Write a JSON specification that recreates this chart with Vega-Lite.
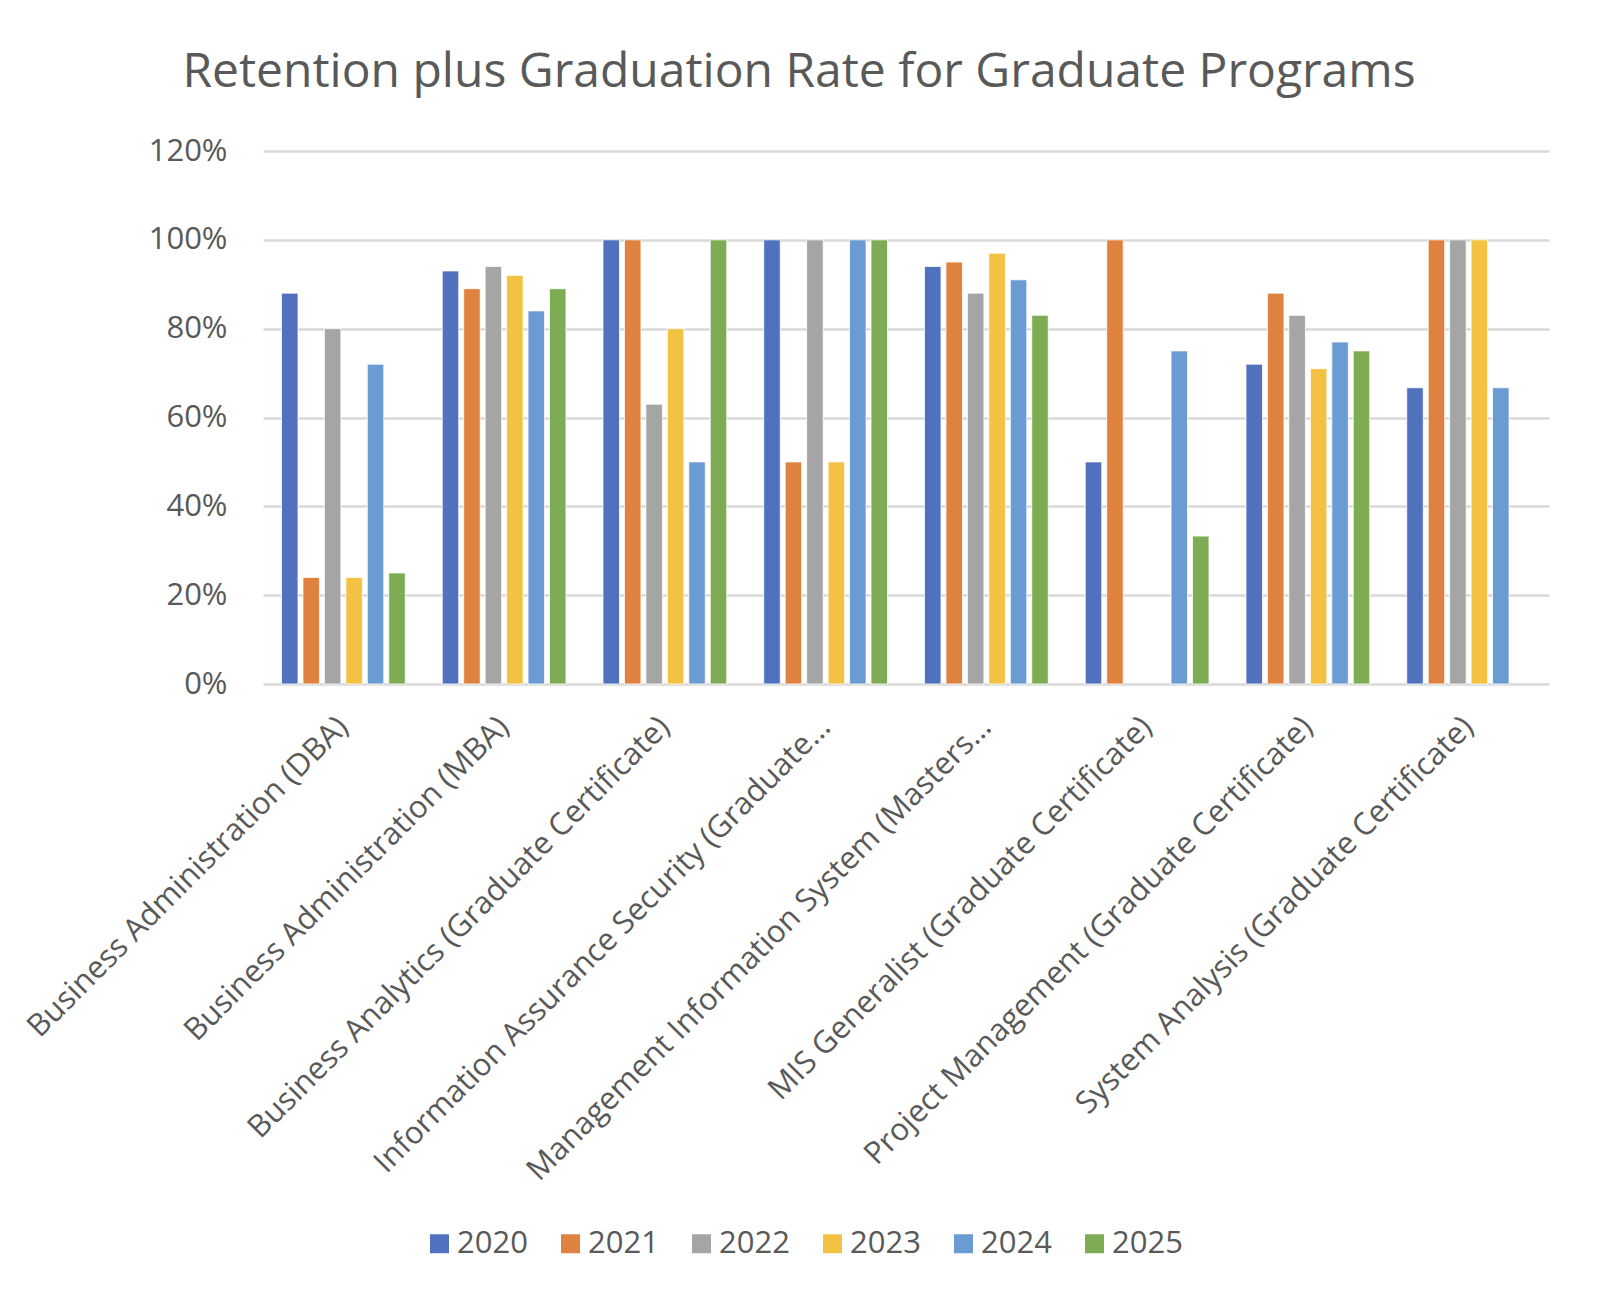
{
  "$schema": "https://vega.github.io/schema/vega-lite/v6.json",
  "description": "Retention plus Graduation Rate for Graduate Programs",
  "autosize": {"type": "none"},
  "width": 1286,
  "height": 533,
  "padding": {"left": 263, "top": 151, "right": 51, "bottom": 624},
  "background": "white",
  "title": {
    "text": "Retention plus Graduation Rate for Graduate Programs",
    "font": "Open Sans",
    "fontSize": 48,
    "fontWeight": "normal",
    "color": "#595959",
    "anchor": "middle",
    "frame": "group",
    "dx": -107,
    "offset": 38
  },
  "data": {
    "values": [
      {"program": "Business Administration (DBA)", "year": "2020", "rate": 0.88},
      {"program": "Business Administration (DBA)", "year": "2021", "rate": 0.24},
      {"program": "Business Administration (DBA)", "year": "2022", "rate": 0.80},
      {"program": "Business Administration (DBA)", "year": "2023", "rate": 0.24},
      {"program": "Business Administration (DBA)", "year": "2024", "rate": 0.72},
      {"program": "Business Administration (DBA)", "year": "2025", "rate": 0.25},
      {"program": "Business Administration (MBA)", "year": "2020", "rate": 0.93},
      {"program": "Business Administration (MBA)", "year": "2021", "rate": 0.89},
      {"program": "Business Administration (MBA)", "year": "2022", "rate": 0.94},
      {"program": "Business Administration (MBA)", "year": "2023", "rate": 0.92},
      {"program": "Business Administration (MBA)", "year": "2024", "rate": 0.84},
      {"program": "Business Administration (MBA)", "year": "2025", "rate": 0.89},
      {"program": "Business Analytics (Graduate Certificate)", "year": "2020", "rate": 1.0},
      {"program": "Business Analytics (Graduate Certificate)", "year": "2021", "rate": 1.0},
      {"program": "Business Analytics (Graduate Certificate)", "year": "2022", "rate": 0.63},
      {"program": "Business Analytics (Graduate Certificate)", "year": "2023", "rate": 0.80},
      {"program": "Business Analytics (Graduate Certificate)", "year": "2024", "rate": 0.50},
      {"program": "Business Analytics (Graduate Certificate)", "year": "2025", "rate": 1.0},
      {"program": "Information Assurance Security (Graduate…", "year": "2020", "rate": 1.0},
      {"program": "Information Assurance Security (Graduate…", "year": "2021", "rate": 0.50},
      {"program": "Information Assurance Security (Graduate…", "year": "2022", "rate": 1.0},
      {"program": "Information Assurance Security (Graduate…", "year": "2023", "rate": 0.50},
      {"program": "Information Assurance Security (Graduate…", "year": "2024", "rate": 1.0},
      {"program": "Information Assurance Security (Graduate…", "year": "2025", "rate": 1.0},
      {"program": "Management Information System (Masters…", "year": "2020", "rate": 0.94},
      {"program": "Management Information System (Masters…", "year": "2021", "rate": 0.95},
      {"program": "Management Information System (Masters…", "year": "2022", "rate": 0.88},
      {"program": "Management Information System (Masters…", "year": "2023", "rate": 0.97},
      {"program": "Management Information System (Masters…", "year": "2024", "rate": 0.91},
      {"program": "Management Information System (Masters…", "year": "2025", "rate": 0.83},
      {"program": "MIS Generalist (Graduate Certificate)", "year": "2020", "rate": 0.50},
      {"program": "MIS Generalist (Graduate Certificate)", "year": "2021", "rate": 1.0},
      {"program": "MIS Generalist (Graduate Certificate)", "year": "2024", "rate": 0.75},
      {"program": "MIS Generalist (Graduate Certificate)", "year": "2025", "rate": 0.333},
      {"program": "Project Management (Graduate Certificate)", "year": "2020", "rate": 0.72},
      {"program": "Project Management (Graduate Certificate)", "year": "2021", "rate": 0.88},
      {"program": "Project Management (Graduate Certificate)", "year": "2022", "rate": 0.83},
      {"program": "Project Management (Graduate Certificate)", "year": "2023", "rate": 0.71},
      {"program": "Project Management (Graduate Certificate)", "year": "2024", "rate": 0.77},
      {"program": "Project Management (Graduate Certificate)", "year": "2025", "rate": 0.75},
      {"program": "System Analysis (Graduate Certificate)", "year": "2020", "rate": 0.667},
      {"program": "System Analysis (Graduate Certificate)", "year": "2021", "rate": 1.0},
      {"program": "System Analysis (Graduate Certificate)", "year": "2022", "rate": 1.0},
      {"program": "System Analysis (Graduate Certificate)", "year": "2023", "rate": 1.0},
      {"program": "System Analysis (Graduate Certificate)", "year": "2024", "rate": 0.667}
    ]
  },
  "mark": {"type": "bar", "stroke": "white", "strokeWidth": 0.8},
  "encoding": {
    "x": {
      "field": "program",
      "type": "nominal",
      "sort": null,
      "title": null,
      "scale": {"paddingInner": 0.23, "paddingOuter": 0.115},
      "axis": {
        "labelAngle": -45,
        "labelAlign": "right",
        "labelBaseline": "middle",
        "labelPadding": 38,
        "labelFont": "Open Sans",
        "labelFontSize": 31,
        "labelColor": "#595959",
        "labelLimit": 900,
        "domain": false,
        "ticks": false
      }
    },
    "xOffset": {
      "field": "year",
      "type": "nominal",
      "scale": {"domain": ["2020", "2021", "2022", "2023", "2024", "2025"], "paddingInner": 0.23, "paddingOuter": 0}
    },
    "y": {
      "field": "rate",
      "type": "quantitative",
      "title": null,
      "scale": {"domain": [0, 1.2], "nice": false},
      "axis": {
        "values": [0, 0.2, 0.4, 0.6, 0.8, 1.0, 1.2],
        "format": ".0%",
        "labelFont": "Open Sans",
        "labelFontSize": 31,
        "labelColor": "#595959",
        "labelPadding": 36,
        "domain": false,
        "ticks": false,
        "gridColor": "#d9d9d9",
        "gridWidth": 2.5
      }
    },
    "color": {
      "field": "year",
      "type": "nominal",
      "title": null,
      "scale": {
        "domain": ["2020", "2021", "2022", "2023", "2024", "2025"],
        "range": ["#4F71BE", "#E0823F", "#A5A5A5", "#F4C242", "#6A9BD2", "#7EAC55"]
      },
      "legend": {
        "orient": "none",
        "direction": "horizontal",
        "legendX": 161,
        "legendY": 1077,
        "symbolType": "square",
        "symbolSize": 360,
        "symbolStrokeWidth": 0,
        "labelFont": "Open Sans",
        "labelFontSize": 31,
        "labelColor": "#595959",
        "labelOffset": 2,
        "columnPadding": 27
      }
    }
  },
  "config": {
    "view": {"stroke": null}
  }
}
